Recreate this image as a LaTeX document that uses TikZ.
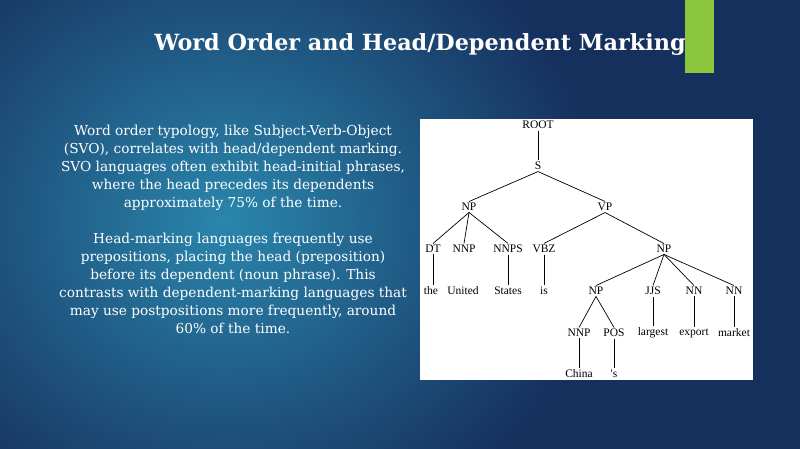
\documentclass[tikz,border=0pt]{standalone}
\usepackage{fontspec}
\setmainfont{DejaVu Serif}
\newfontfamily\treefont{Liberation Serif}
\begin{document}
\begin{tikzpicture}[x=1pt,y=-1pt,
  t/.style={font=\treefont\fontsize{11.5}{12}\selectfont, inner sep=1.5pt, anchor=center},
  e/.style={black, line width=0.7pt},
  body/.style={text=white, align=center, font=\fontsize{13.7}{18}\selectfont}]
\definecolor{bgdark}{HTML}{16305E}
\definecolor{bglight}{HTML}{2A86AC}
\useasboundingbox (0,0) rectangle (800,449);
\clip (0,0) rectangle (800,449);
\fill[bgdark] (0,0) rectangle (800,449);
\shade[inner color=bglight, outer color=bgdark] (-150,-120) rectangle (600,560);
\fill[color={rgb,255:red,140;green,198;blue,63}] (685,0) rectangle (714,73);
\node[text=white, font=\bfseries\fontsize{22.3}{24}\selectfont] (title) at (420,45) {Word Order and Head/Dependent Marking};
\node[body, anchor=north] (p1) at (233,122) {Word order typology, like Subject-Verb-Object\\(SVO), correlates with head/dependent marking.\\SVO languages often exhibit head-initial phrases,\\where the head precedes its dependents\\approximately 75\% of the time.};
\node[body, anchor=north] (p2) at (233,230) {Head-marking languages frequently use\\prepositions, placing the head (preposition)\\before its dependent (noun phrase). This\\contrasts with dependent-marking languages that\\may use postpositions more frequently, around\\60\% of the time.};
\fill[white] (420,119) rectangle (753,380);
\node[t] (root) at (538,125) {ROOT};
\node[t] (s) at (538,166) {S};
\node[t] (np) at (469,207) {NP};
\node[t] (vp) at (605,207) {VP};
\node[t] (dt) at (433,249) {DT};
\node[t] (nnp) at (464,249) {NNP};
\node[t] (nnps) at (508,249) {NNPS};
\node[t] (vbz) at (544,249) {VBZ};
\node[t] (np2) at (664,249) {NP};
\node[t] (the) at (431,291) {the};
\node[t] (united) at (463,291) {United};
\node[t] (states) at (508,291) {States};
\node[t] (is) at (544,291) {is};
\node[t] (np3) at (596,291) {NP};
\node[t] (jjs) at (653,291) {JJS};
\node[t] (nn1) at (694,291) {NN};
\node[t] (nn2) at (734,291) {NN};
\node[t] (nnp2) at (579,333) {NNP};
\node[t] (pos) at (614,333) {POS};
\node[t] (largest) at (653,333) {largest};
\node[t] (export) at (694,333) {export};
\node[t] (market) at (734,333) {market};
\node[t] (china) at (579,374) {China};
\node[t] (aps) at (614,374) {'s};
\foreach \a/\b in {root/s,s/np,s/vp,np/dt,np/nnp,np/nnps,vp/vbz,vp/np2,
  np2/np3,np2/jjs,np2/nn1,np2/nn2,np3/nnp2,np3/pos}
  \draw[e] (\a.south) -- (\b.north);
\foreach \a/\b in {dt/the,nnps/states,vbz/is,jjs/largest,nn1/export,nn2/market,nnp2/china,pos/aps}
  \draw[e] (\a.south) -- (\a.south |- \b.north);
\end{tikzpicture}
\end{document}
